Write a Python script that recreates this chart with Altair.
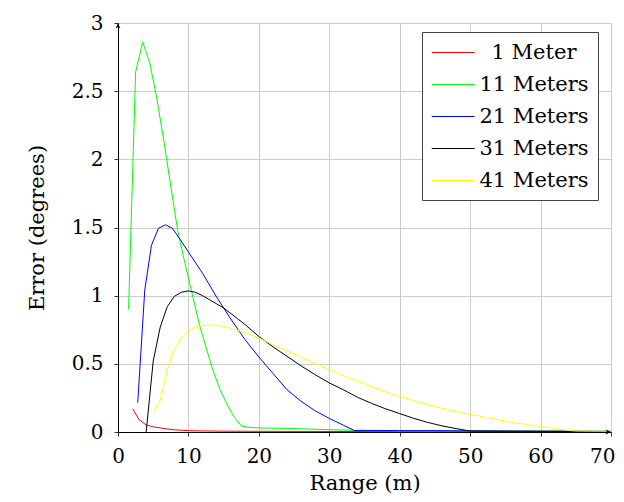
import altair as alt
import pandas as pd

# ---- data ----
x_1m = [2.1, 3.0, 4.0, 5.0, 6.0, 7.0, 8.0, 9.0, 10.0, 12.0, 15.0, 20.0, 30.0, 40.0, 50.0, 60.0, 70.0]
y_1m = [0.17, 0.09, 0.052, 0.038, 0.03, 0.022, 0.016, 0.013, 0.01, 0.008, 0.006, 0.005, 0.004, 0.003, 0.003, 0.002, 0.002]

x_11m = [1.5, 2.5, 3.5, 4.5, 5.5, 6.5, 7.5, 8.5, 9.5, 10.5, 11.5, 12.5, 13.5, 14.5, 15.5, 16.5, 17.5,
         18.5, 20.0, 25.0, 30.0, 35.0, 40.0, 50.0, 60.0, 70.0]
y_11m = [0.90, 2.64, 2.86, 2.71, 2.45, 2.14, 1.80, 1.47, 1.24, 1.02, 0.80, 0.62, 0.45, 0.31, 0.20, 0.11, 0.045,
         0.035, 0.03, 0.025, 0.017, 0.011, 0.009, 0.007, 0.006, 0.005]

x_21m = [2.8, 3.8, 4.75, 5.75, 6.75, 7.7, 8.6, 10.0, 12.0, 14.0, 16.0, 18.0, 20.0, 22.0, 24.0, 26.0,
         28.0, 30.0, 32.0, 33.6, 35.0, 40.0, 45.0, 50.0, 60.0, 70.0]
y_21m = [0.215, 1.04, 1.37, 1.495, 1.52, 1.495, 1.43, 1.32, 1.165, 0.99, 0.83, 0.68, 0.55, 0.43, 0.31, 0.225,
         0.155, 0.10, 0.05, 0.01, 0.012, 0.01, 0.01, 0.008, 0.006, 0.005]

x_31m = [4.0, 5.0, 6.0, 7.0, 8.0, 9.0, 10.0, 11.0, 12.0, 13.0, 14.0, 15.0, 16.0, 17.0, 18.0, 20.0, 22.0,
         24.0, 26.0, 28.0, 30.0, 32.0, 34.0, 36.0, 38.0, 40.0, 42.0, 44.0, 46.0, 48.0, 50.0, 55.0, 60.0, 65.0, 70.0]
y_31m = [0.0, 0.52, 0.77, 0.92, 0.995, 1.025, 1.035, 1.025, 1.0, 0.97, 0.94, 0.91, 0.87, 0.83, 0.79, 0.70, 0.625,
         0.555, 0.485, 0.42, 0.36, 0.31, 0.255, 0.21, 0.17, 0.135, 0.10, 0.07, 0.045, 0.025, 0.007, 0.006, 0.005, 0.004, 0.003]

x_41m = [5.0, 6.0, 7.0, 8.0, 9.0, 10.0, 11.0, 12.0, 13.0, 14.0, 15.0, 16.0, 18.0, 20.0, 22.0, 24.0, 26.0,
         28.0, 30.0, 32.0, 34.0, 36.0, 38.0, 40.0, 42.0, 44.0, 46.0, 48.0, 50.0, 52.0, 54.0, 56.0, 58.0,
         60.0, 62.0, 64.0, 65.0, 67.0, 70.0]
y_41m = [0.145, 0.235, 0.46, 0.61, 0.69, 0.74, 0.77, 0.78, 0.785, 0.783, 0.775, 0.76, 0.73, 0.69, 0.64, 0.595, 0.55,
         0.505, 0.46, 0.415, 0.375, 0.335, 0.295, 0.26, 0.23, 0.20, 0.175, 0.15, 0.13, 0.11, 0.09, 0.07, 0.055,
         0.04, 0.025, 0.012, 0.007, 0.006, 0.005]

series_names = ["1 Meter", "11 Meters", "21 Meters", "31 Meters", "41 Meters"]
series_colors = ["#ff0000", "#00ff00", "#0000ff", "#000000", "#ffff00"]
x_ticks = [0, 10, 20, 30, 40, 50, 60, 70]
y_ticks = [0, 0.5, 1, 1.5, 2, 2.5, 3]

rows = []
for name, xs, ys in zip(series_names, [x_1m, x_11m, x_21m, x_31m, x_41m], [y_1m, y_11m, y_21m, y_31m, y_41m]):
    for i, (a, b) in enumerate(zip(xs, ys)):
        rows.append({"series": name, "x": a, "y": b, "i": i})
df = pd.DataFrame(rows)

FONT = "DejaVu Serif"
FS = 21

xscale = alt.Scale(domain=[x_ticks[0], x_ticks[-1]], nice=False)
yscale = alt.Scale(domain=[y_ticks[0], y_ticks[-1]], nice=False)

last_x = x_ticks[-1]
lines = alt.Chart(df).mark_line(strokeWidth=1, clip=True).encode(
    x=alt.X("x:Q", scale=xscale,
            axis=alt.Axis(values=x_ticks, title="Range (m)", format="d", labelFlush=False,
                          labelAlign={"condition": {"test": f"datum.value == {last_x}", "value": "right"},
                                      "value": "center"},
                          labelOffset={"condition": {"test": f"datum.value == {last_x}", "value": 4},
                                       "value": 0})),
    y=alt.Y("y:Q", scale=yscale,
            axis=alt.Axis(values=y_ticks, title="Error (degrees)", format=".1~f", labelFlush=False)),
    color=alt.Color("series:N",
                    scale=alt.Scale(domain=series_names, range=series_colors),
                    legend=alt.Legend(
                        title=None, orient="none", legendX=304, legendY=9,
                        symbolType="M -1 0 L 3 0", symbolSize=462, symbolStrokeWidth=1,
                        symbolFillColor="transparent",
                        labelFont=FONT, labelFontSize=FS, labelColor="#000",
                        labelAlign="center", labelOffset=80,
                        rowPadding=10, padding=9,
                        strokeColor="#444", fillColor="white")),
    order="i:Q",
)

arrow_df = pd.DataFrame({"x": [x_ticks[-1], x_ticks[0]], "y": [y_ticks[0], y_ticks[-1]],
                         "dir": ["right", "up"]})
arrow_right = alt.Chart(arrow_df[arrow_df.dir == "right"]).mark_point(
    shape="M 0 0 L -1.8 -0.8 L -1.3 0 L -1.8 0.8 Z", filled=True, fill="black", strokeWidth=0,
    size=36, opacity=1
).encode(x=alt.X("x:Q", scale=xscale), y=alt.Y("y:Q", scale=yscale))
arrow_up = alt.Chart(arrow_df[arrow_df.dir == "up"]).mark_point(
    shape="M 0 0 L -0.8 1.8 L 0 1.3 L 0.8 1.8 Z", filled=True, fill="black", strokeWidth=0,
    size=36, opacity=1
).encode(x=alt.X("x:Q", scale=xscale), y=alt.Y("y:Q", scale=yscale))

chart = alt.layer(lines, arrow_right, arrow_up).properties(
    width=493, height=409,
    autosize=alt.AutoSizeParams(type="none"),
    padding={"left": 110, "top": 15, "right": 5, "bottom": 62},
).configure_view(stroke=None).configure_axis(
    labelFont=FONT, labelFontSize=20, labelColor="#000",
    titleFont=FONT, titleFontSize=FS, titleColor="#000", titleFontWeight="normal",
    domainColor="#000", domainWidth=1,
    tickColor="#333", tickSize=4,
    gridColor="#cccccc", gridWidth=1,
).configure_axisY(
    labelPadding=11, titlePadding=24,
).configure_axisX(
    labelPadding=10, titlePadding=6,
)

chart.save("out.html", embed_options={"renderer": "svg", "actions": False})
